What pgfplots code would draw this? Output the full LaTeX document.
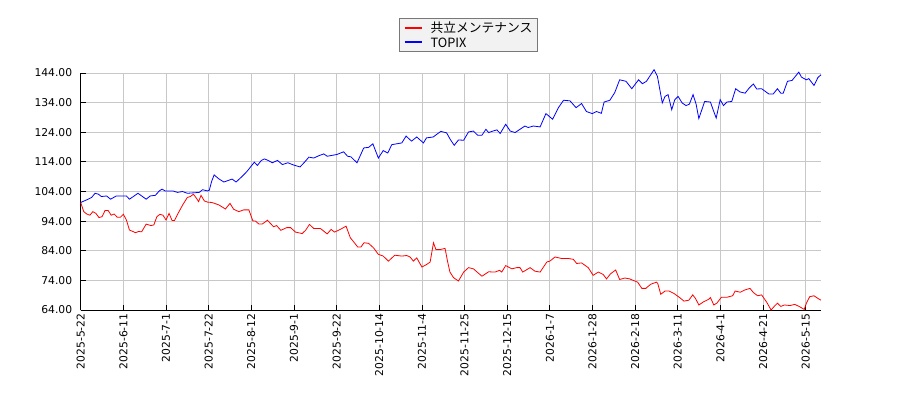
\documentclass[border=0pt]{standalone}
\usepackage{fontspec}
\setmainfont{DejaVu Sans}
\newfontfamily\jp{Noto Sans CJK JP}
\usepackage{pgfplots}
\pgfplotsset{compat=1.18}
\definecolor{gridc}{RGB}{200,200,200}
\definecolor{legfill}{RGB}{242,242,242}
\definecolor{legdraw}{RGB}{120,120,120}
\definecolor{lred}{RGB}{255,0,0}
\definecolor{lblue}{RGB}{0,0,255}
\begin{document}
\begin{tikzpicture}
\useasboundingbox (0,0) rectangle (900bp,400bp);
\begin{axis}[
 at={(80.7bp,90bp)}, anchor=south west,
 scale only axis, width=740.3bp, height=237bp,
 xmin=0, xmax=243, ymin=64, ymax=144,
 axis x line*=bottom, axis y line*=left,
 axis line style={-, black, line width=0.8bp},
 xtick={0,14,...,238},
 xticklabels={2025-5-22,2025-6-11,2025-7-1,2025-7-22,2025-8-12,2025-9-1,2025-9-22,2025-10-14,2025-11-4,2025-11-25,2025-12-15,2026-1-7,2026-1-28,2026-2-18,2026-3-11,2026-4-1,2026-4-21,2026-5-15},
 ytick={64,74,...,144},
 grid=major, major grid style={gridc, line width=0.8bp},
 tick align=inside, major tick length=5bp, tick style={black, line width=0.8bp},
 ticklabel style={font=\fontsize{10.8}{12}\selectfont},
 xticklabel style={rotate=90, anchor=east},
 yticklabel style={xshift=-5bp, /pgf/number format/.cd, fixed, fixed zerofill, precision=2},
 /pgf/number format/assume math mode=true,
 clip=false,
]
\addplot[color=red, line width=0.8bp] coordinates {
(0,100.3)(1,97.2)(2,96.4)(3,96)(4,97.2)(5,96.6)(6,95.2)(7,95.5)(8,97.6)(9,97.6)
(10,96)(11,96.4)(12,95.3)(13,95.3)(14,96.3)(15,94.4)(16,91)(18,90.1)(19,90.5)(20,90.4)
(21.5,93)(23,92.5)(24,92.7)(25,95.5)(26,96.3)(27,96)(28,94.4)(29,96.6)(30,94.2)(30.8,94.2)
(32,96.7)(33.5,99.5)(35,102)(36,102.3)(37,103.1)(38,101.7)(38.7,100.6)(39.5,102.7)(40.6,100.8)(41.7,100.4)
(43,100.3)(45.3,99.5)(47.5,98.1)(49,100)(50.2,98)(51.9,97.2)(53.5,97.8)(55.2,97.8)(56.5,94.1)(57.4,94)
(58.5,93)(59.6,93)(61.3,94.3)(63.3,92.1)(64.3,92.5)(65.7,90.9)(67.6,91.8)(68.9,91.8)(70.5,90.3)(72.7,89.8)
(73.8,90.9)(75.1,92.9)(76.5,91.5)(78.7,91.5)(80.9,89.7)(82.2,91.2)(83.3,90.3)(85.2,91.2)(87.1,92.3)(88.5,88.4)
(89.6,87)(90.9,85.3)(92,85.3)(93,86.7)(94.5,86.5)(96.1,85)(97.7,82.8)(99.3,82.2)(101,80.5)(103.1,82.5)
(105.4,82.2)(107,82.4)(108.1,81.9)(109.2,80.5)(110.3,81.6)(112,78.5)(113.6,79.4)(114.7,80.2)(115.8,86.7)(116.6,84.4)
(118,84.4)(119.6,84.8)(120.4,80.5)(121.2,76.8)(122.4,74.9)(124,73.8)(125.7,76.8)(127.3,78.3)(128.9,77.9)(131.7,75.4)
(133.9,76.9)(136,76.8)(137.5,77.4)(138.2,76.8)(139.5,79)(141.5,77.9)(143.1,78.3)(144.2,78.3)(145.1,76.8)(147.5,78.3)
(149.1,77.1)(150.8,76.8)(153,80.2)(154,80.5)(155.7,81.9)(157.8,81.4)(160,81.4)(161.7,81.1)(162.8,79.7)(164.4,79.9)
(166.6,78.3)(168.2,75.7)(169.9,76.8)(171.5,76)(172.6,74.5)(173.9,76.2)(175.6,77.5)(176.9,74.3)(178.6,74.8)(180.2,74.5)
(181.1,74.1)(182.8,73.4)(184.2,71.3)(185.5,71.3)(187.1,72.7)(189,73.4)(189.4,73)(190.4,69.3)(191.8,70.4)(193.1,70.4)
(194.7,69.6)(196.6,68.2)(198,67)(199.6,67.3)(200.9,69.1)(201.8,67.9)(202.9,65.7)(204.5,66.8)(206.1,67.6)(206.7,68.2)
(207.8,65.7)(208.8,66.3)(210.3,68.3)(212.1,68.3)(214,68.8)(214.8,70.4)(216.5,70)(218.1,70.8)(219.7,71.3)(220.8,69.9)
(222.2,68.8)(223.5,69.1)(225.2,66.6)(226.6,64)(227.9,65.5)(228.7,66.3)(229.8,65.2)(231,65.7)(232.8,65.5)(234.4,65.9)
(236,65.1)(237.5,64.2)(238.2,66.3)(239.3,68.5)(240.7,68.8)(242,67.9)(243,67.3)
};
\addplot[color=blue, line width=0.8bp] coordinates {
(0,100.3)(2,101.2)(3.6,102)(4.7,103.4)(5.8,103.1)(6.8,102.3)(8.5,102.5)(9.8,101.4)(11.7,102.5)(15,102.5)
(16,101.4)(18.8,103.4)(21.5,101.4)(22.8,102.5)(24.5,102.7)(25.8,104.2)(26.7,104.8)(27.7,104.2)(30.2,104.2)(31.8,103.7)
(33.4,104)(35,103.4)(38.9,103.7)(40,104.6)(41.6,104.2)(42.2,104.4)(43,107.5)(43.8,109.6)(45.3,108.3)(47,107.2)
(49.7,108.2)(51,107.2)(53,109.1)(54.6,110.8)(57,113.9)(58,112.8)(59.3,114.5)(60.3,115)(61.5,114.5)(62.9,113.7)
(64.6,114.5)(66.2,113.1)(68,113.7)(70,112.9)(72,112.3)(73.3,113.7)(74.9,115.6)(76.5,115.3)(78.2,116.1)(79.8,116.7)
(80.9,115.9)(82.5,116.2)(84.1,116.5)(86.3,117.4)(87.6,115.9)(88.7,115.7)(90.7,113.7)(92.9,118.7)(94.5,118.9)(95.9,120.1)
(97.7,115.3)(99.3,117.8)(100.8,117)(102.1,119.8)(103.7,120.1)(105.4,120.4)(106.8,122.7)(108.6,121)(110.3,122.4)(112.5,120.4)
(113.5,122.1)(115.7,122.4)(118.2,124.3)(120.1,123.8)(121.3,121.6)(122.6,119.6)(124,121.4)(125.7,121.3)(127.3,124.1)(128.9,124.4)
(130.3,123)(131.7,123)(133,125)(133.9,123.9)(135.3,124.4)(136.6,124.8)(137.7,123.6)(139.5,126.7)(141,124.4)(142.6,123.9)
(144.2,125)(145.8,126.1)(146.9,125.6)(148.6,126.1)(150.8,125.8)(152.7,130.3)(154.9,128.4)(156.8,132.3)(158.5,134.8)(160.6,134.6)
(162.6,132.3)(164.4,133.7)(166,131)(167.9,130.3)(169.3,131)(170.9,130.4)(171.8,134.2)(173.7,134.8)(175.3,137.4)(176.9,141.7)
(179,141.2)(180.9,138.7)(183.1,141.7)(184.4,140.4)(185.7,141.2)(187.1,143.4)(188.2,145.1)(189.3,142.9)(190.9,133.9)(191.8,136.1)
(192.8,136.7)(194,131.6)(195,135)(196.1,136.1)(197.4,133.9)(198.7,133)(199.8,133.5)(201,136.7)(202,133.5)(202.9,128.6)
(204.8,134.4)(206.7,134.2)(207.8,131)(208.6,128.8)(209.9,135)(211,133)(212.1,134.2)(213.7,134.4)(215,138.7)(216.4,137.6)
(218.1,137.2)(219.4,138.9)(220.8,140.3)(221.9,138.6)(223.5,138.7)(225.9,136.9)(227.3,136.9)(228.7,138.7)(229.8,137.2)(230.6,137.2)
(232,141.2)(233.5,141.5)(235.7,144.3)(236.6,142.6)(238.2,141.7)(239,142.1)(240.7,139.8)(242,142.5)(243,143.4)
};
\end{axis}
\node[draw=legdraw, fill=legfill, anchor=north, inner xsep=5bp, inner ysep=4bp,
  font=\jp\fontsize{12.8}{14.3}\selectfont, align=left, text=black]
  at (468.5bp,382bp)
  {\textcolor{lred}{\rule[0.34em]{17bp}{1.6bp}}\hspace{9bp}共立メンテナンス\\
   \textcolor{lblue}{\rule[0.34em]{17bp}{1.6bp}}\hspace{9bp}TOPIX};
\end{tikzpicture}
\end{document}
